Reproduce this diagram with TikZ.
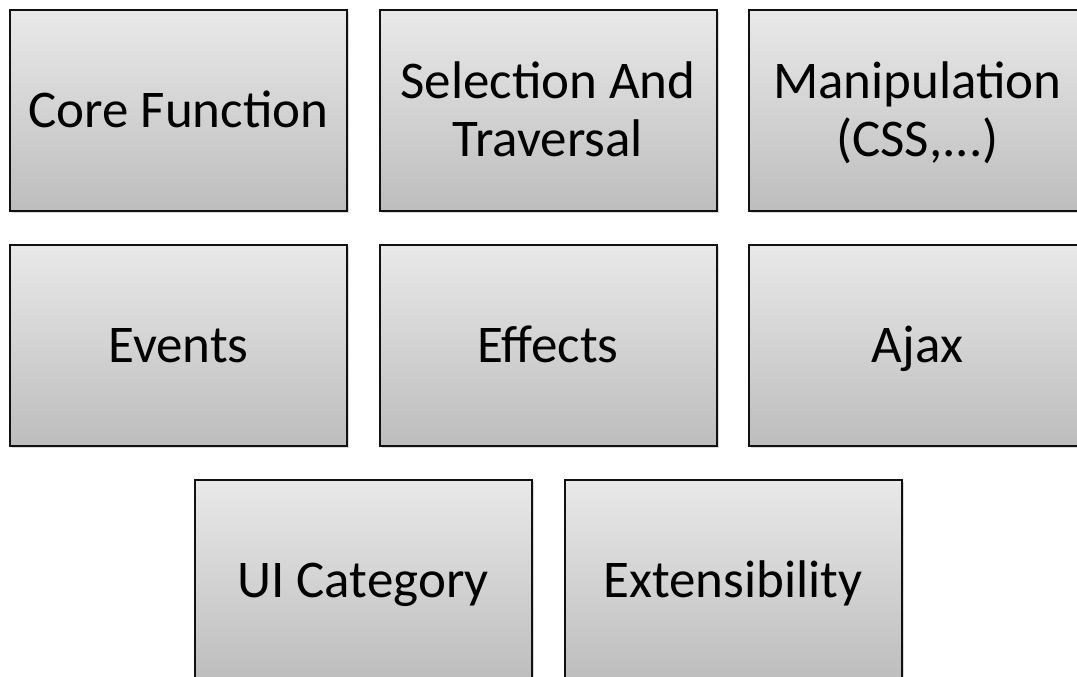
\documentclass[tikz,border=0pt]{standalone}
\usepackage{fontspec}
\setmainfont{Carlito}
\usetikzlibrary{shadows}
\definecolor{boxtop}{HTML}{E9E9E9}
\definecolor{boxbottom}{HTML}{BDBDBD}
\definecolor{boxline}{HTML}{111111}

\begin{document}
\begin{tikzpicture}[x=1pt, y=-1pt,
    catbox/.style={draw=boxline, line width=2pt, top color=boxtop, bottom color=boxbottom,
        minimum width=337pt, minimum height=201pt, inner sep=0pt, align=center,
        text height=34pt, text depth=0pt,
        font=\fontsize{53}{58}\selectfont,
        drop shadow={shadow xshift=2pt, shadow yshift=-2pt, opacity=0.15, fill=black}},
    twoline/.style={text height=92pt}]
    % Page
    \useasboundingbox (0, 0) rectangle (1077, 677);
    \clip (0, 0) rectangle (1077, 677);

    % First row
    \node[catbox] (core) at (178.5, 110.5) {Core Function};
    \node[catbox, twoline] (select) at (548, 110.5) {Selection And\\Traversal};
    \node[catbox, twoline] (manip) at (917.5, 110.5) {Manipulation\\(CSS,...)};

    % Second row
    \node[catbox] (events) at (178.5, 345) {Events};
    \node[catbox] (effects) at (548, 345) {Effects};
    \node[catbox] (ajax) at (917.5, 345) {Ajax};

    % Third row
    \node[catbox] (ui) at (363, 580.5) {UI Category};
    \node[catbox] (extend) at (733, 580.5) {Extensibility};
\end{tikzpicture}
\end{document}
